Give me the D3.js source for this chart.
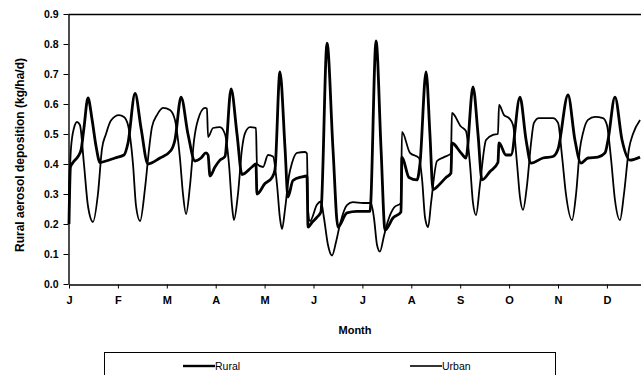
<!DOCTYPE html>
<html>
<head>
<meta charset="utf-8">
<script src="https://cdn.jsdelivr.net/npm/d3@7/dist/d3.min.js"></script>
<style>
  html, body { margin: 0; padding: 0; background: #fff; }
  svg { display: block; }
  text { font-family: "Liberation Sans", Arial, sans-serif; font-weight: bold; fill: #000; }
</style>
</head>
<body>
<script>
// Month tick labels
const months = ["J","F","M","A","M","J","J","A","S","O","N","D"];
const yTicks = [0, 0.1, 0.2, 0.3, 0.4, 0.5, 0.6, 0.7, 0.8, 0.9];
const seriesNames = ["Rural", "Urban"];

// Rural series: [day of year, kg/ha/d]
const rural = [[0,0.20],[0.9,0.39],[2.5,0.405],[5.6,0.425],[7.5,0.447],[9.3,0.52],[11.8,0.62],[14.3,0.55],[16.8,0.46],[19.3,0.405],[23.0,0.41],[28.6,0.42],[34.2,0.43],[36.7,0.47],[41.1,0.635],[44.8,0.52],[49.1,0.40],[56.6,0.42],[63.4,0.445],[65.9,0.48],[69.7,0.623],[74.0,0.50],[78.4,0.41],[82.1,0.42],[85.2,0.437],[86.5,0.43],[87.7,0.36],[90.8,0.39],[93.9,0.413],[97.0,0.425],[100.8,0.65],[104.5,0.50],[107.6,0.365],[113.8,0.39],[116.3,0.40],[116.9,0.30],[121.9,0.335],[126.3,0.355],[128.1,0.38],[131.2,0.707],[134.4,0.45],[136.2,0.29],[139.3,0.345],[144.9,0.357],[148.0,0.36],[148.7,0.19],[151.1,0.205],[154.3,0.223],[156.7,0.24],[160.5,0.803],[164.2,0.45],[167.3,0.19],[172.9,0.237],[179.1,0.242],[187.2,0.242],[191.0,0.81],[194.1,0.45],[196.6,0.18],[201.5,0.22],[206.5,0.24],[207.1,0.423],[211.5,0.355],[216.5,0.347],[218.3,0.40],[222.1,0.707],[224.5,0.50],[226.4,0.315],[230.1,0.33],[234.5,0.355],[237.6,0.37],[238.2,0.47],[243.8,0.437],[246.9,0.42],[251.3,0.657],[254.4,0.50],[256.9,0.347],[261.9,0.375],[266.8,0.405],[267.5,0.47],[271.8,0.43],[274.9,0.43],[280.5,0.623],[284.3,0.48],[287.4,0.403],[294.8,0.42],[301.0,0.425],[304.2,0.45],[310.4,0.63],[314.7,0.48],[318.5,0.403],[322.8,0.42],[329.0,0.423],[333.4,0.437],[335.3,0.48],[339.6,0.623],[344.0,0.48],[348.9,0.413],[355.2,0.423]];

// Urban series: [day of year, kg/ha/d]
const urban = [[0,0.30],[1.2,0.45],[3.1,0.52],[5.0,0.54],[6.8,0.53],[9.3,0.40],[11.8,0.26],[14.9,0.207],[18.0,0.30],[20.5,0.45],[23.0,0.50],[26.1,0.545],[31.1,0.563],[34.2,0.557],[36.7,0.53],[39.8,0.40],[41.7,0.26],[44.2,0.21],[47.3,0.32],[49.8,0.45],[51.6,0.523],[54.7,0.563],[58.5,0.587],[62.8,0.58],[65.9,0.547],[69.0,0.42],[70.9,0.30],[72.8,0.233],[75.3,0.33],[77.8,0.48],[80.2,0.547],[84.6,0.587],[85.8,0.585],[86.5,0.49],[89.6,0.52],[93.9,0.523],[97.0,0.50],[99.5,0.40],[101.4,0.26],[102.6,0.213],[105.1,0.30],[107.6,0.45],[109.5,0.503],[112.6,0.523],[116.3,0.52],[116.9,0.40],[120.7,0.39],[123.8,0.43],[126.9,0.425],[129.4,0.33],[131.2,0.22],[132.5,0.183],[134.4,0.25],[136.8,0.36],[138.7,0.403],[141.8,0.437],[146.8,0.44],[148.0,0.435],[148.7,0.245],[149.9,0.21],[154.3,0.265],[156.7,0.275],[158.6,0.22],[161.1,0.13],[163.6,0.095],[166.1,0.14],[168.6,0.20],[172.9,0.263],[176.6,0.273],[182.9,0.27],[187.8,0.27],[189.7,0.22],[191.6,0.13],[193.4,0.108],[195.9,0.16],[198.4,0.21],[202.2,0.255],[206.5,0.27],[207.1,0.507],[212.1,0.437],[217.7,0.42],[219.6,0.35],[221.5,0.22],[223.4,0.19],[225.2,0.27],[228.9,0.41],[233.3,0.423],[237.6,0.435],[238.2,0.57],[243.8,0.525],[246.9,0.51],[249.4,0.40],[251.3,0.27],[253.2,0.23],[255.6,0.33],[259.4,0.48],[263.7,0.497],[266.8,0.50],[267.5,0.597],[270.6,0.563],[273.7,0.553],[276.2,0.53],[278.7,0.40],[280.5,0.29],[282.4,0.247],[284.9,0.33],[287.4,0.47],[289.2,0.537],[292.3,0.553],[301.0,0.553],[304.2,0.537],[306.6,0.43],[309.1,0.30],[312.9,0.213],[315.4,0.30],[317.8,0.45],[319.7,0.503],[322.8,0.547],[327.2,0.557],[332.1,0.553],[334.6,0.53],[337.1,0.42],[339.6,0.28],[342.7,0.213],[345.2,0.30],[348.3,0.45],[350.8,0.50],[355.2,0.547]];

(function () {
const W = 641, H = 375;
const mLeft = 68.5, mTop = 14, mBottom = 284;
const svg = d3.select("body").append("svg").attr("width", W).attr("height", H);

const x = d3.scaleLinear().domain([0, 365]).range([69, 655.8]);
const y = d3.scaleLinear().domain([0, 0.9]).range([mBottom, mTop]);

// top border
svg.append("line").attr("x1", mLeft).attr("x2", W).attr("y1", mTop + 0.5).attr("y2", mTop + 0.5)
  .attr("stroke", "#000").attr("stroke-width", 1.4);

// Y axis
const yAxis = svg.append("g").attr("transform", `translate(${mLeft},0)`)
  .call(d3.axisLeft(y).tickValues(yTicks).tickFormat(d3.format(".1f")).tickSize(5).tickSizeOuter(0));
yAxis.select(".domain").attr("stroke-width", 1.4);
yAxis.selectAll("text").style("font-size", "10.5px").attr("x", -10).attr("dy", "0.34em");

// X axis
const xAxis = svg.append("g").attr("transform", `translate(0,${mBottom + 0.5})`)
  .call(d3.axisBottom(x).tickValues(d3.range(12).map(i => i * 365 / 12))
    .tickFormat((d, i) => months[i]).tickSize(4).tickSizeOuter(0));
xAxis.select(".domain").attr("stroke-width", 1.4);
xAxis.selectAll("text").style("font-size", "11px").attr("y", 12).attr("dy", "0.71em");

// axis titles
svg.append("text").attr("transform", "translate(24,155) rotate(-90)")
  .attr("text-anchor", "middle").style("font-size", "12px")
  .text("Rural aerosol deposition (kg/ha/d)");
svg.append("text").attr("x", 355).attr("y", 334).attr("text-anchor", "middle")
  .style("font-size", "11px").text("Month");

// lines
const line = d3.line().x(d => x(d[0])).y(d => y(d[1])).curve(d3.curveMonotoneX);
svg.append("path").datum(urban).attr("d", line).attr("fill", "none")
  .attr("stroke", "#000").attr("stroke-width", 1.8).attr("stroke-linejoin", "round");
svg.append("path").datum(rural).attr("d", line).attr("fill", "none")
  .attr("stroke", "#000").attr("stroke-width", 2.8).attr("stroke-linejoin", "round");

// legend
svg.append("rect").attr("x", 104.5).attr("y", 352.5).attr("width", 451).attr("height", 40)
  .attr("fill", "none").attr("stroke", "#000").attr("stroke-width", 1);
const lg = [{x: 183, w: 2.4}, {x: 410, w: 1.6}];
seriesNames.forEach((n, i) => {
  svg.append("line").attr("x1", lg[i].x).attr("x2", lg[i].x + 32).attr("y1", 366).attr("y2", 366)
    .attr("stroke", "#000").attr("stroke-width", lg[i].w);
  svg.append("text").attr("x", lg[i].x + 32).attr("y", 370).style("font-size", "10.5px")
    .style("font-weight", "normal").text(n);
});
})();
</script>
</body>
</html>
